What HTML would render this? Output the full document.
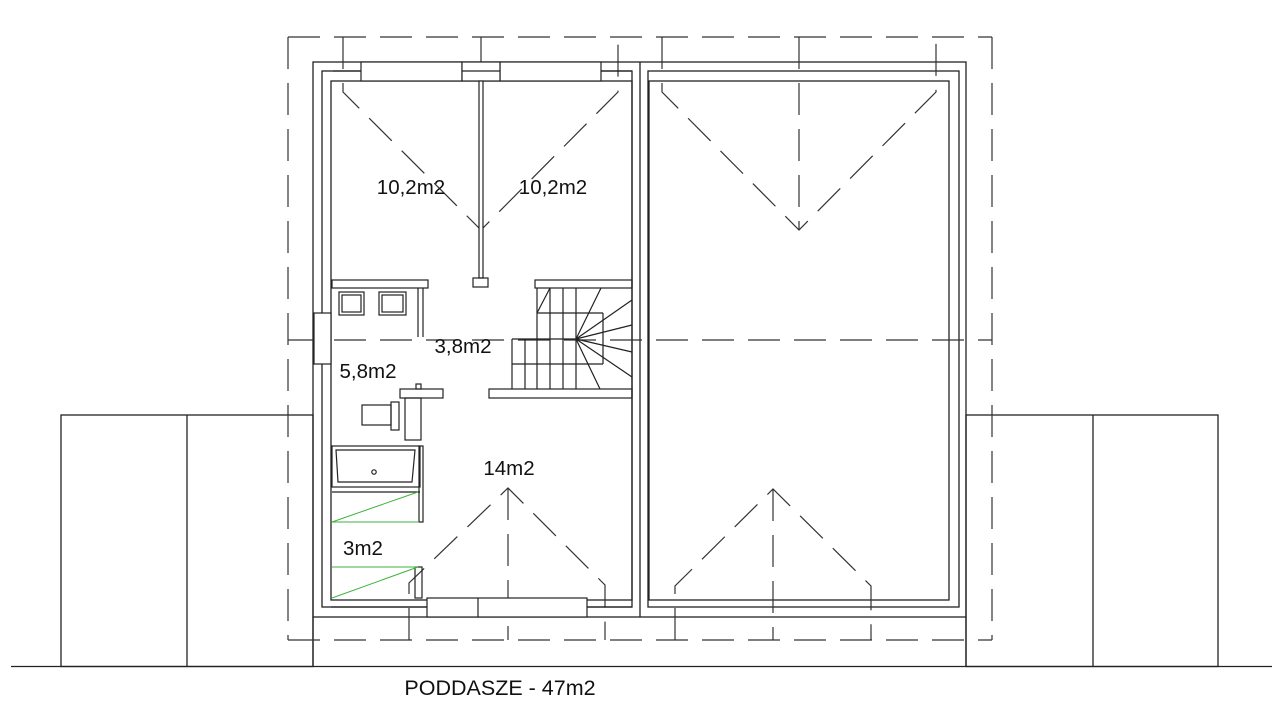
<!DOCTYPE html>
<html><head><meta charset="utf-8"><style>
html,body{margin:0;padding:0;background:#fff;width:1280px;height:713px;overflow:hidden}
svg{display:block}
text{font-family:"Liberation Sans",sans-serif;fill:#111}
</style></head><body>
<svg width="1280" height="713" viewBox="0 0 1280 713" xmlns="http://www.w3.org/2000/svg">
<g fill="none" stroke="#222" stroke-width="1.3">
<line x1="11" y1="666.5" x2="1272" y2="666.5"/>
<rect x="61" y="415" width="252" height="251.5"/>
<line x1="187" y1="415" x2="187" y2="666"/>
<rect x="966" y="415" width="252" height="251.5"/>
<line x1="1093" y1="415" x2="1093" y2="666"/>
<rect x="313" y="62" width="653" height="555"/>
<line x1="313" y1="617" x2="313" y2="666"/>
<line x1="966" y1="617" x2="966" y2="666"/>
<rect x="322" y="71" width="310" height="536"/>
<rect x="331" y="81" width="301" height="519"/>
<line x1="640" y1="62" x2="640" y2="617"/>
<rect x="648" y="71" width="311" height="536"/>
<rect x="649" y="81" width="300" height="519"/>
</g>
<g fill="none" stroke="#333" stroke-width="1.2" stroke-dasharray="32,14">
<path d="M288 37 L992 37"/>
<path d="M288 37 L288 640"/>
<path d="M992 37 L992 640"/>
<path d="M288 640 L992 640"/>
<path d="M288 340 L992 340"/>
<path d="M343 37 L343 92 L481 230 L618 92 L618 37"/>
<path d="M481 37 L481 230"/>
<path d="M662 37 L662 92 L799 230 L936 92 L936 37"/>
<path d="M799 37 L799 230"/>
<path d="M409 640 L409 583 L508 488 L605 585 L605 640"/>
<path d="M508 488 L508 640"/>
<path d="M675 640 L675 586 L773 489 L871 586 L871 640"/>
<path d="M773 489 L773 640"/>
</g>
<g fill="#fff" stroke="#222" stroke-width="1.2">
<rect x="361" y="62" width="101" height="19"/>
<rect x="500" y="62" width="101" height="19"/>
<rect x="462" y="62" width="38" height="19"/>
<rect x="427" y="598" width="160" height="19"/>
<rect x="314" y="313" width="17" height="51"/>
<rect x="479" y="81" width="4" height="197"/>
</g>
<g fill="none" stroke="#222" stroke-width="1.2">
<line x1="462" y1="71" x2="500" y2="71"/>
<line x1="333" y1="71" x2="361" y2="71"/>
<line x1="601" y1="71" x2="632" y2="71"/>
<line x1="478" y1="598" x2="478" y2="617"/>
<line x1="587" y1="607" x2="632" y2="607"/>
<line x1="331" y1="607" x2="427" y2="607"/>
<rect x="473" y="278" width="15" height="9"/>
<rect x="332" y="280" width="96" height="8"/>
<rect x="339" y="292" width="25" height="23"/>
<rect x="342" y="295" width="19" height="17"/>
<rect x="379" y="292" width="27" height="23"/>
<rect x="382" y="295" width="21" height="17"/>
<line x1="418" y1="288" x2="418" y2="337"/>
<line x1="423" y1="288" x2="423" y2="337"/>
<rect x="400" y="389" width="43" height="9"/>
<rect x="416" y="384" width="5" height="5"/>
<rect x="405" y="398" width="16" height="42"/>
<rect x="362" y="405" width="29" height="20"/>
<rect x="391" y="402" width="8" height="28"/>
<rect x="332" y="446" width="88" height="41"/>
<path d="M336 450 L415 450 L412 482 L338 482 Z"/>
<circle cx="374" cy="472" r="2.2"/>
<line x1="332" y1="492" x2="420" y2="492"/>
<rect x="419" y="446" width="4" height="76"/>
<rect x="415" y="567" width="7" height="31"/>
<rect x="535" y="280" width="97" height="8"/>
<rect x="489" y="389" width="143" height="9"/>
<line x1="537" y1="288" x2="537" y2="389"/>
<line x1="550" y1="288" x2="550" y2="389"/>
<line x1="563" y1="288" x2="563" y2="389"/>
<line x1="576" y1="288" x2="576" y2="389"/>
<line x1="537" y1="313" x2="603" y2="313"/>
<line x1="603" y1="313" x2="603" y2="364"/>
<line x1="576" y1="364" x2="603" y2="364"/>
<line x1="512" y1="339" x2="576" y2="339"/>
<line x1="512" y1="339" x2="512" y2="389"/>
<line x1="525" y1="339" x2="525" y2="389"/>
<line x1="512" y1="364" x2="576" y2="364"/>
<line x1="537" y1="313" x2="550" y2="288"/>
<line x1="576" y1="339" x2="601" y2="288"/>
<line x1="576" y1="339" x2="632" y2="300"/>
<line x1="576" y1="339" x2="632" y2="325"/>
<line x1="576" y1="339" x2="632" y2="352"/>
<line x1="576" y1="339" x2="632" y2="377"/>
<line x1="576" y1="339" x2="600" y2="389"/>
</g>
<g stroke="#3cb43c" stroke-width="1" fill="none">
<line x1="332" y1="522" x2="418" y2="522"/>
<line x1="332" y1="522" x2="418" y2="492"/>
<line x1="332" y1="567" x2="418" y2="567"/>
<line x1="332" y1="598" x2="418" y2="567"/>
</g>
<g font-size="20.5">
<text x="411" y="194" text-anchor="middle">10,2m2</text>
<text x="553" y="194" text-anchor="middle">10,2m2</text>
<text x="463" y="353" text-anchor="middle">3,8m2</text>
<text x="368" y="378" text-anchor="middle">5,8m2</text>
<text x="509" y="475" text-anchor="middle">14m2</text>
<text x="363" y="555" text-anchor="middle">3m2</text>
</g>
<text x="500" y="695" font-size="21.5" text-anchor="middle">PODDASZE - 47m2</text>
</svg>
</body></html>
